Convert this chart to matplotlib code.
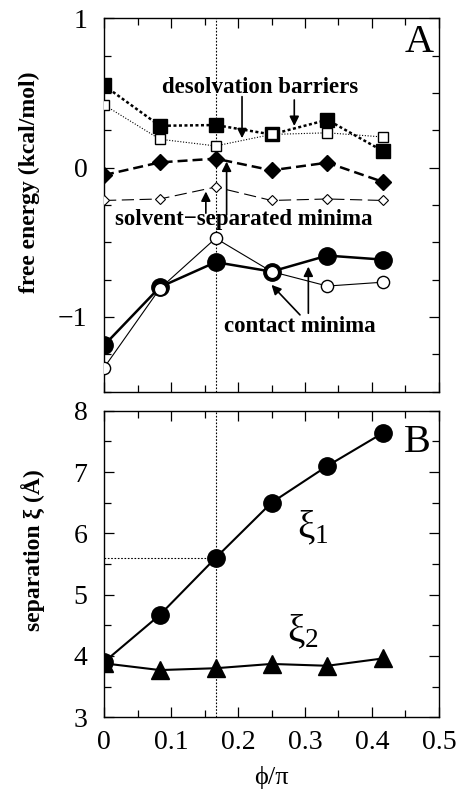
import matplotlib
matplotlib.use("Agg")
import matplotlib.pyplot as plt
from matplotlib.ticker import MultipleLocator

plt.rcParams['font.family'] = ['Liberation Serif', 'DejaVu Serif']
plt.rcParams['mathtext.fontset'] = 'custom'
plt.rcParams['mathtext.rm'] = 'Liberation Serif'
plt.rcParams['mathtext.it'] = 'Liberation Serif:italic'
plt.rcParams['mathtext.bf'] = 'Liberation Serif:bold'

# ---- data ----
phi = [0.0, 1/12, 1/6, 0.25, 1/3, 5/12]
barrier_filled = [0.55, 0.28, 0.285, 0.222, 0.32, 0.11]
barrier_open = [0.42, 0.19, 0.145, 0.222, 0.233, 0.205]
ssm_filled = [-0.05, 0.035, 0.06, -0.018, 0.033, -0.096]
ssm_open = [-0.22, -0.21, -0.13, -0.22, -0.21, -0.22]
contact_filled = [-1.19, -0.80, -0.633, -0.696, -0.589, -0.616]
contact_open = [-1.34, -0.81, -0.473, -0.696, -0.793, -0.767]
xi1 = [3.9, 4.67, 5.6, 6.5, 7.1, 7.64]
xi2 = [3.88, 3.77, 3.80, 3.87, 3.84, 3.96]
phi_mark = 1/6
xi_mark = 5.6

fig = plt.figure(figsize=(4.57, 7.93), dpi=100)
axA = fig.add_axes([0.2276, 0.5061, 0.733, 0.4709])
axB = fig.add_axes([0.2276, 0.0955, 0.733, 0.3865])

# ---- panel A ----
axA.plot(phi, barrier_open, ls=(0, (1, 1.5)), lw=0.8, color='black',
         marker='s', ms=7, mfc='white', mec='black', mew=1.0, zorder=3)
axA.plot(phi, barrier_filled, ls=(0, (1.2, 1.0)), lw=1.8, color='black',
         marker='s', ms=9.5, mfc='black', mec='black', zorder=2)
axA.plot(phi, ssm_open, ls=(0, (11, 5)), lw=0.8, color='black',
         marker='D', ms=5.2, mfc='white', mec='black', mew=0.8, zorder=3)
axA.plot(phi, ssm_filled, ls=(0, (4, 2)), lw=1.8, color='black',
         marker='D', ms=8, mfc='black', mec='black', zorder=2)
axA.plot(phi, contact_filled, ls='-', lw=1.8, color='black',
         marker='o', ms=12.5, mfc='black', mec='black', zorder=2)
axA.plot(phi, contact_open, ls='-', lw=0.8, color='black',
         marker='o', ms=8.8, mfc='white', mec='black', mew=1.0, zorder=3)
axA.axvline(phi_mark, ls=(0, (1.5, 1.5)), lw=0.8, color='black', zorder=1)

axA.set_xlim(0, 0.5)
axA.set_ylim(-1.5, 1)
axA.yaxis.set_minor_locator(MultipleLocator(0.25))
axA.xaxis.set_major_locator(MultipleLocator(0.1))
axA.xaxis.set_minor_locator(MultipleLocator(0.05))
axA.set_xticklabels([])
axA.set_yticks([-1, 0, 1])
axA.set_yticklabels(['\u22121', '0', '1'])
axA.set_ylabel('free energy (kcal/mol)', fontsize=17, fontweight='bold',
               va='center')
axA.yaxis.set_label_coords(-0.222, 0.562)

axA.text(0.985, 0.985, 'A', transform=axA.transAxes, fontsize=29,
         ha='right', va='top')

bold = dict(fontsize=16.5, fontweight='bold', ha='center', va='center')
axA.text(0.233, 0.538, 'desolvation barriers', **bold)
axA.text(0.208, -0.35, 'solvent\u2212separated minima', **bold)
axA.text(0.2925, -1.064, 'contact minima', **bold)

ap = dict(arrowstyle='-|>', color='black', lw=1.2, mutation_scale=14, shrinkA=0, shrinkB=0)
axA.annotate('', xy=(0.206, 0.197), xytext=(0.206, 0.475), arrowprops=ap)
axA.annotate('', xy=(0.284, 0.279), xytext=(0.284, 0.453), arrowprops=ap)
axA.annotate('', xy=(0.152, -0.16), xytext=(0.152, -0.305), arrowprops=ap)
axA.annotate('', xy=(0.183, 0.04), xytext=(0.183, -0.317), arrowprops=ap)
axA.annotate('', xy=(0.250, -0.785), xytext=(0.2925, -0.986), arrowprops=ap)
axA.annotate('', xy=(0.305, -0.663), xytext=(0.305, -0.975), arrowprops=ap)

# ---- panel B ----
axB.plot(phi, xi1, ls='-', lw=1.5, color='black',
         marker='o', ms=12.5, mfc='black', mec='black', zorder=3)
axB.plot(phi, xi2, ls='-', lw=1.5, color='black',
         marker='^', ms=13.5, mfc='black', mec='black', zorder=2)
axB.axvline(phi_mark, ls=(0, (1.5, 1.5)), lw=0.8, color='black', zorder=1)
axB.plot([0, phi_mark], [xi_mark, xi_mark], ls=(0, (1.5, 1.5)), lw=0.8,
         color='black', zorder=1)

axB.set_xlim(0, 0.5)
axB.set_ylim(3, 8)
axB.yaxis.set_major_locator(MultipleLocator(1))
axB.yaxis.set_minor_locator(MultipleLocator(0.5))
axB.xaxis.set_minor_locator(MultipleLocator(0.05))
axB.set_xticks([0, 0.1, 0.2, 0.3, 0.4, 0.5])
axB.set_xticklabels(['0', '0.1', '0.2', '0.3', '0.4', '0.5'])
axB.set_xlabel('\u03d5/\u03c0', fontsize=19, labelpad=8)
axB.set_ylabel('separation \u03be (\u00c5)', fontsize=17, fontweight='bold',
               va='center')
axB.yaxis.set_label_coords(-0.212, 0.545)

axB.text(0.975, 0.895, 'B', transform=axB.transAxes, fontsize=29,
         ha='right', va='center')
axB.text(0.312, 6.08, r'$\mathrm{\xi}_{\mathrm{1}}$', fontsize=28, ha='center', va='center')
axB.text(0.297, 4.39, r'$\mathrm{\xi}_{\mathrm{2}}$', fontsize=28, ha='center', va='center')

for ax in (axA, axB):
    ax.tick_params(which='both', direction='in', top=True, right=True,
                   labelsize=20, width=0.9)
    ax.tick_params(which='major', length=7)
    ax.tick_params(which='minor', length=5)
    ax.tick_params(axis='y', which='major', pad=12)
    ax.tick_params(axis='x', which='major', pad=9)
    for s in ax.spines.values():
        s.set_linewidth(1.0)

fig.savefig('out.png', dpi=100)
